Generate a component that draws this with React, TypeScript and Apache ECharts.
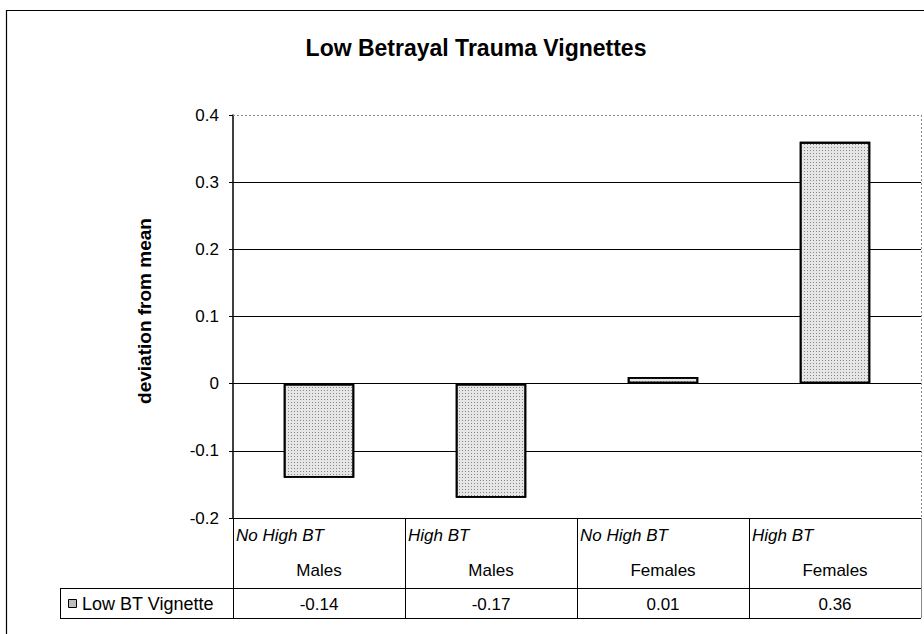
import React, { useEffect, useRef } from "react";
import * as echarts from "echarts";

const titleText = "Low Betrayal Trauma Vignettes";
const yAxisName = "deviation from mean";
const seriesName = "Low BT Vignette";
const categoriesTop = ["No High BT", "High BT", "No High BT", "High BT"];
const categoriesBottom = ["Males", "Males", "Females", "Females"];
const values = [-0.14, -0.17, 0.01, 0.36];
const yMin = -0.2;
const yMax = 0.4;
const yInterval = 0.1;

const W = 924;
const H = 634;
const GRID = { left: 233, top: 115, width: 688, height: 403 };
const FONT = "'Liberation Sans', Arial, Helvetica, sans-serif";

export default function App() {
  const ref = useRef<HTMLDivElement>(null);

  useEffect(() => {
    if (!ref.current) return;
    const chart = echarts.init(ref.current, null, { renderer: "svg", width: W, height: H });

    const plotL = GRID.left;
    const plotR = GRID.left + GRID.width;
    const plotT = GRID.top;
    const plotB = GRID.top + GRID.height;
    const n = categoriesTop.length;
    const cellW = GRID.width / n;
    const row1B = plotB + 70; // category label row bottom
    const row2B = row1B + 30; // value row bottom
    const legendL = 60;

    const graphics: any[] = [];
    const line = (x1: number, y1: number, x2: number, y2: number, extra: any = {}) =>
      graphics.push({
        type: "line",
        silent: true,
        z: 1,
        shape: { x1, y1, x2, y2 },
        style: { stroke: "#000", lineWidth: 1, ...extra },
      });

    // outer chart border
    graphics.push({
      type: "rect",
      silent: true,
      z: 0,
      shape: { x: 6.5, y: 10.5, width: 940, height: 660 },
      style: { fill: "none", stroke: "#000", lineWidth: 1.2 },
    });
    // plot area border (top & right dotted)
    line(plotL, plotT + 0.5, plotR, plotT + 0.5, { stroke: "#888", lineDash: [2, 2] });
    line(plotR + 0.5, plotT, plotR + 0.5, row2B, { stroke: "#888", lineDash: [2, 2] });

    // y axis title
    graphics.push({
      type: "text",
      silent: true,
      z: 2,
      x: 144,
      y: 311,
      rotation: Math.PI / 2,
      style: {
        text: yAxisName,
        font: `bold 19px ${FONT}`,
        fill: "#000",
        textAlign: "center",
        textVerticalAlign: "middle",
      },
    });

    // table lines
    line(legendL, row1B + 0.5, plotR, row1B + 0.5);
    line(legendL, row2B + 0.5, plotR, row2B + 0.5);
    line(legendL + 0.5, row1B, legendL + 0.5, row2B);
    for (let i = 0; i <= n; i++) {
      const x = Math.round(plotL + i * cellW) + 0.5;
      line(x, plotB, x, row2B, { stroke: i === n ? "#888" : "#000" });
    }

    // table texts
    for (let i = 0; i < n; i++) {
      const x0 = plotL + i * cellW;
      const cx = x0 + cellW / 2;
      graphics.push({
        type: "text",
        silent: true,
        z: 2,
        x: x0 + 3,
        y: plotB + 17,
        style: {
          text: categoriesTop[i],
          font: `italic 17px ${FONT}`,
          fill: "#000",
          textAlign: "left",
          textVerticalAlign: "middle",
        },
      });
      graphics.push({
        type: "text",
        silent: true,
        z: 2,
        x: cx,
        y: plotB + 52,
        style: {
          text: categoriesBottom[i],
          font: `17px ${FONT}`,
          fill: "#000",
          textAlign: "center",
          textVerticalAlign: "middle",
        },
      });
      graphics.push({
        type: "text",
        silent: true,
        z: 2,
        x: cx,
        y: row1B + 16,
        style: {
          text: values[i].toFixed(2),
          font: `17px ${FONT}`,
          fill: "#000",
          textAlign: "center",
          textVerticalAlign: "middle",
        },
      });
    }

    // legend key in table
    graphics.push({
      type: "rect",
      silent: true,
      z: 2,
      shape: { x: legendL + 8.5, y: row1B + 11.5, width: 8, height: 8 },
      style: { fill: "#bdbdbd", stroke: "#000", lineWidth: 1 },
    });
    graphics.push({
      type: "text",
      silent: true,
      z: 2,
      x: legendL + 22,
      y: row1B + 16,
      style: {
        text: seriesName,
        font: `18px ${FONT}`,
        fill: "#000",
        textAlign: "left",
        textVerticalAlign: "middle",
      },
    });

    const splitColors: string[] = [];
    const nLines = Math.round((yMax - yMin) / yInterval) + 1;
    for (let i = 0; i < nLines; i++) {
      splitColors.push(i === 0 || i === nLines - 1 ? "transparent" : "#000");
    }

    chart.setOption({
      animation: false,
      backgroundColor: "#fff",
      title: {
        text: titleText,
        left: 471,
        top: 31,
        textAlign: "center",
        textStyle: { fontFamily: FONT, fontSize: 23, fontWeight: "bold", color: "#000" },
      },
      grid: { ...GRID, containLabel: false },
      xAxis: {
        type: "category",
        data: categoriesBottom.map((b, i) => `${categoriesTop[i]} ${b}`),
        axisLine: { show: true, onZero: false, lineStyle: { color: "#000", width: 1 } },
        axisTick: { show: false },
        axisLabel: { show: false },
        splitLine: { show: false },
      },
      yAxis: {
        type: "value",
        min: yMin,
        max: yMax,
        interval: yInterval,
        axisLine: { show: true, lineStyle: { color: "#000", width: 1.5 } },
        axisTick: { show: true, inside: false, length: 4, lineStyle: { color: "#000" } },
        axisLabel: {
          margin: 14,
          fontFamily: FONT,
          fontSize: 17,
          color: "#000",
          formatter: (v: number) => String(Math.round(v * 10) / 10),
        },
        splitLine: { show: true, lineStyle: { color: splitColors, width: 1 } },
      },
      series: [
        {
          type: "bar",
          name: seriesName,
          data: values,
          barWidth: "41%",
          itemStyle: {
            color: "#e6e6e6",
            borderColor: "#000",
            borderWidth: 1.8,
            decal: {
              symbol: "rect",
              symbolSize: 1,
              dashArrayX: [1, 2],
              dashArrayY: [1, 2],
              rotation: 0,
              color: "rgba(70,70,70,0.6)",
            },
          },
          z: 3,
        },
      ],
      graphic: graphics,
    });

    return () => chart.dispose();
  }, []);

  return (
    <div
      ref={ref}
      style={{ position: "absolute", left: 0, top: 0, width: W, height: H, background: "#fff" }}
    />
  );
}
